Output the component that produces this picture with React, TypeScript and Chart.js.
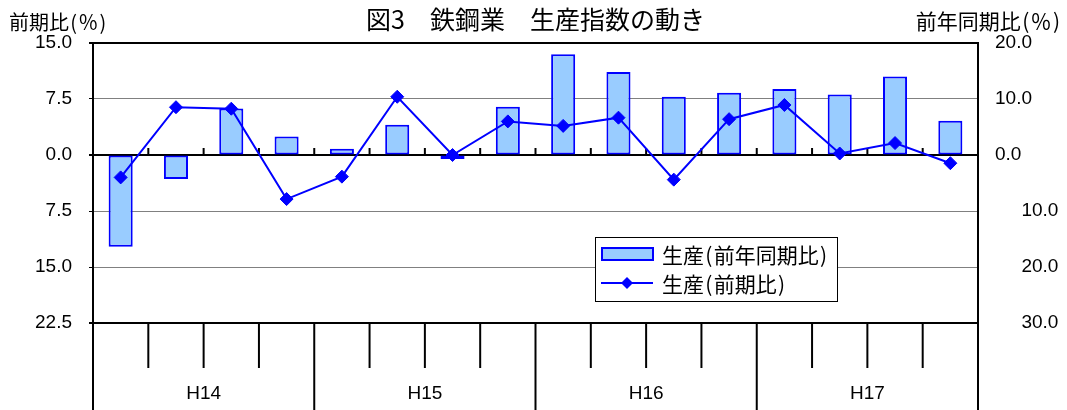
import React, { useEffect, useRef } from "react";
import { Chart, registerables } from "chart.js";

Chart.register(...registerables);

const categories = [
  "H14-1", "H14-2", "H14-3", "H14-4",
  "H15-1", "H15-2", "H15-3", "H15-4",
  "H16-1", "H16-2", "H16-3", "H16-4",
  "H17-1", "H17-2", "H17-3", "H17-4",
];
const yearLabels = ["H14", "H15", "H16", "H17"];
const quartersPerYear = 4;

// 生産（前年同期比） — right axis
const yoyValues = [-16.4, -4.3, 8.3, 3.3, 1.1, 5.4, -0.7, 8.6, 18.0, 14.8, 10.4, 11.1, 11.8, 10.8, 14.0, 6.1];
// 生産（前期比） — left axis
const qoqValues = [-3.0, 6.4, 6.2, -5.9, -2.9, 7.8, 0.0, 4.5, 3.9, 5.0, -3.3, 4.8, 6.7, 0.2, 1.6, -1.1];

const leftAxisRange = [-22.5, 15, 7.5]; // min, max, step
const rightAxisRange = [-30, 20, 10];

const HS = "\u200A";
const titleText = "図3　鉄鋼業　生産指数の動き";
const leftTitle = `前期比${HS}(${HS}％${HS})`;
const rightTitle = `前年同期比${HS}(${HS}％${HS})`;
const barLabel = `生産${HS}(${HS}前年同期比${HS})`;
const lineLabel = `生産${HS}(${HS}前期比${HS})`;

const NUM_FONT = "'Liberation Sans', Arial, sans-serif";
const JP_FONT = "'Noto Sans CJK JP', sans-serif";
const BLUE = "#0000FF";
const LIGHT = "#99CCFF";

const customPlugin = {
  id: "customDecor",
  beforeDatasetsDraw(chart: any) {
    const { ctx } = chart;
    const x = chart.scales.x;
    const y = chart.scales.y;
    const y0 = y.getPixelForValue(0);
    ctx.save();
    ctx.strokeStyle = "#000";
    ctx.lineWidth = 2;
    for (let i = 1; i < categories.length; i++) {
      const xb = (x.getPixelForValue(i - 1) + x.getPixelForValue(i)) / 2;
      ctx.beginPath();
      ctx.moveTo(xb, y0 - 7);
      ctx.lineTo(xb, y0);
      ctx.stroke();
    }
    ctx.restore();
  },
  afterDraw(chart: any) {
    const { ctx, chartArea } = chart;
    const x = chart.scales.x;
    const H = chart.height;
    const n = categories.length;
    const boundary = (i: number) => {
      if (i <= 0) return chartArea.left;
      if (i >= n) return chartArea.right;
      return (x.getPixelForValue(i - 1) + x.getPixelForValue(i)) / 2;
    };
    ctx.save();
    ctx.strokeStyle = "#000";
    ctx.lineWidth = 2;
    // category axis below plot
    for (let i = 0; i <= n; i++) {
      const xb = boundary(i);
      const full = i % quartersPerYear === 0;
      ctx.beginPath();
      ctx.moveTo(xb, chartArea.bottom);
      ctx.lineTo(xb, full ? H : chartArea.bottom + 45);
      ctx.stroke();
    }
    ctx.fillStyle = "#000";
    ctx.font = `19px ${NUM_FONT}`;
    ctx.textAlign = "center";
    ctx.textBaseline = "middle";
    yearLabels.forEach((lab, j) => {
      const cx = (boundary(j * quartersPerYear) + boundary((j + 1) * quartersPerYear)) / 2;
      ctx.fillText(lab, cx, 394);
    });

    // titles
    ctx.font = `25px ${JP_FONT}`;
    ctx.textAlign = "center";
    ctx.fillText(titleText, (chartArea.left + chartArea.right) / 2, 19);
    ctx.font = `20px ${JP_FONT}`;
    ctx.textAlign = "left";
    ctx.fillText(leftTitle, 9, 22);
    ctx.font = `21px ${JP_FONT}`;
    ctx.textAlign = "right";
    ctx.fillText(rightTitle, 1060, 21);

    // legend
    const lx = 595, ly = 237, lw = 242, lh = 64;
    ctx.fillStyle = "#fff";
    ctx.fillRect(lx, ly, lw, lh);
    ctx.lineWidth = 1;
    ctx.strokeStyle = "#000";
    ctx.strokeRect(lx + 0.5, ly + 0.5, lw, lh);
    const ds = chart.data.datasets;
    const barDs = ds.find((d: any) => d.type === "bar");
    const lineDs = ds.find((d: any) => d.type === "line");
    // bar swatch
    ctx.fillStyle = barDs.backgroundColor;
    ctx.fillRect(602, 248, 51, 12);
    ctx.strokeStyle = barDs.borderColor;
    ctx.lineWidth = 2;
    ctx.strokeRect(602, 248, 51, 12);
    // line swatch
    ctx.strokeStyle = lineDs.borderColor;
    ctx.beginPath();
    ctx.moveTo(601, 283);
    ctx.lineTo(653, 283);
    ctx.stroke();
    ctx.fillStyle = lineDs.borderColor;
    ctx.beginPath();
    const r = 6;
    ctx.moveTo(627, 283 - r);
    ctx.lineTo(627 + r, 283);
    ctx.lineTo(627, 283 + r);
    ctx.lineTo(627 - r, 283);
    ctx.closePath();
    ctx.fill();
    ctx.fillStyle = "#000";
    ctx.font = `21px ${JP_FONT}`;
    ctx.textAlign = "left";
    ctx.textBaseline = "middle";
    ctx.fillText(barDs.label, 662, 255);
    ctx.fillText(lineDs.label, 662, 284);
    ctx.restore();
  },
};

export default function App() {
  const ref = useRef<HTMLCanvasElement | null>(null);
  useEffect(() => {
    document.body.style.margin = "0";
    if (!ref.current) return;
    const isEdge = (ctx: any) => ctx.index === 0 || ctx.index === ctx.chart.scales.y.ticks.length - 1;
    const isZero = (ctx: any) => ctx.tick && Math.abs(ctx.tick.value) < 1e-9;
    const chart = new Chart(ref.current, {
      data: {
        labels: categories,
        datasets: [
          {
            type: "line",
            label: lineLabel,
            data: qoqValues,
            yAxisID: "y",
            borderColor: BLUE,
            backgroundColor: BLUE,
            borderWidth: 2,
            pointStyle: "rectRot",
            pointRadius: 6.5,
            pointBackgroundColor: BLUE,
            pointBorderColor: BLUE,
            pointBorderWidth: 1,
            tension: 0,
            order: 0,
          } as any,
          {
            type: "bar",
            label: barLabel,
            data: yoyValues,
            yAxisID: "y1",
            backgroundColor: LIGHT,
            borderColor: BLUE,
            borderWidth: 2,
            borderSkipped: false,
            categoryPercentage: 1,
            barPercentage: 0.435,
            order: 1,
          } as any,
        ],
      },
      options: {
        responsive: false,
        animation: false,
        devicePixelRatio: 1,
        layout: { padding: { top: 43, left: 0, right: 0, bottom: 0 } },
        plugins: {
          legend: { display: false },
          title: { display: false },
          tooltip: { enabled: false },
        },
        scales: {
          x: {
            type: "category",
            offset: true,
            grid: { display: false },
            border: { display: false },
            ticks: { display: false },
            afterFit: (s: any) => { s.height = 87; },
          },
          y: {
            position: "left",
            min: leftAxisRange[0],
            max: leftAxisRange[1],
            ticks: {
              stepSize: leftAxisRange[2],
              color: "#000",
              font: { family: NUM_FONT, size: 19 },
              padding: 17,
              callback: (v: any) => Math.abs(Number(v)).toFixed(1),
            },
            grid: {
              color: (ctx: any) => (isZero(ctx) || isEdge(ctx) ? "#000" : "#808080"),
              lineWidth: (ctx: any) => (isZero(ctx) || isEdge(ctx) ? 2 : 1),
              tickColor: "#000",
              tickLength: 4,
              drawTicks: true,
            },
            border: { display: true, color: "#000", width: 2 },
            afterFit: (s: any) => { s.width = 93; },
          },
          y1: {
            position: "right",
            min: rightAxisRange[0],
            max: rightAxisRange[1],
            ticks: {
              stepSize: rightAxisRange[2],
              color: "#000",
              font: { family: NUM_FONT, size: 19 },
              padding: 17,
              callback: (v: any) => {
                const n = Number(v);
                const s = Math.abs(n).toFixed(1);
                return n < 0 ? "     " + s : s;
              },
            },
            grid: { drawOnChartArea: false, drawTicks: false },
            border: { display: true, color: "#000", width: 2 },
            afterFit: (s: any) => { s.width = 89; },
          },
        },
      },
      plugins: [customPlugin],
    } as any);
    return () => chart.destroy();
  }, []);
  return (
    <div style={{ width: 1067, height: 410 }}>
      <canvas ref={ref} width={1067} height={410} style={{ display: "block" }} />
    </div>
  );
}
